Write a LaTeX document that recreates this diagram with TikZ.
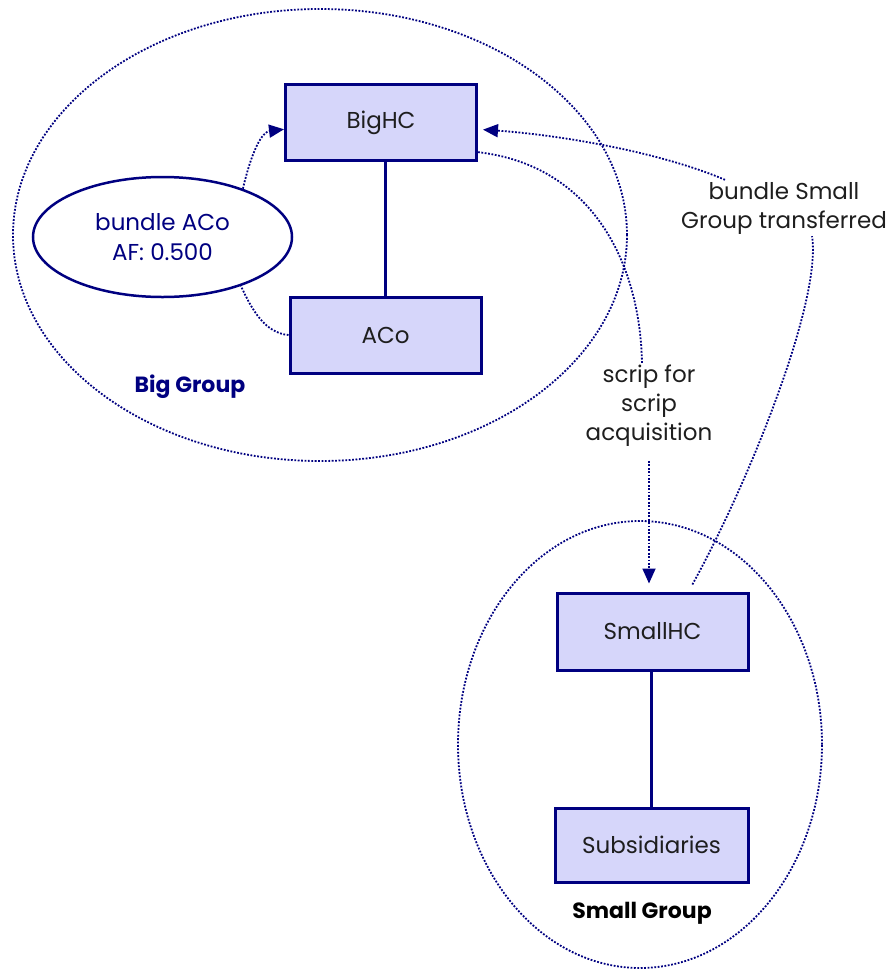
\documentclass[tikz,border=0pt]{standalone}
\usepackage{fontspec}
\setmainfont{Poppins}
\usetikzlibrary{shapes.geometric,arrows.meta}
\definecolor{navy}{RGB}{0,0,128}
\definecolor{boxfill}{RGB}{214,214,250}
\definecolor{ink}{RGB}{30,30,30}
\begin{document}
\begin{tikzpicture}[x=1pt,y=-1pt,
  box/.style={draw=navy, line width=3pt, fill=boxfill, minimum width=191pt, minimum height=76pt, text=ink, font=\fontsize{23}{28}\selectfont, inner sep=0pt},
  cluster/.style={ellipse, draw=navy, line width=1.8pt, dash pattern=on 1.8pt off 1.6pt, inner sep=0pt},
  dotline/.style={draw=navy, line width=1.8pt, dash pattern=on 1.8pt off 1.6pt},
  headed/.style={-{Triangle[length=15pt,width=13pt]}},
  lbl/.style={text=ink, font=\fontsize{23}{29}\selectfont, align=center, inner sep=2pt},
  grouplbl/.style={font=\fontsize{22}{26}\selectfont\bfseries, inner sep=0pt},
  link/.style={draw=navy, line width=2.5pt}]
\useasboundingbox (0,0) rectangle (891,970);
% clusters
\node[cluster, minimum width=614pt, minimum height=452pt] (biggroup) at (320,235) {};
\node[cluster, minimum width=364pt, minimum height=447pt] (smallgroup) at (640,744.5) {};
% boxes
\node[box] (bighc) at (381,122.5) {BigHC};
\node[box] (aco) at (385.5,335) {ACo};
\node[box, minimum height=77pt] (smallhc) at (652.5,631.5) {SmallHC};
\node[box, minimum width=193pt, minimum height=74pt] (subs) at (651.5,845) {Subsidiaries};
\node[ellipse, draw=navy, line width=2.5pt, minimum width=259pt, minimum height=120pt, text=navy, align=center, font=\fontsize{23}{30}\selectfont, inner sep=0pt] (baco) at (162.5,237) {bundle ACo\\AF: 0.500};
% group labels
\node[grouplbl, text=navy] (bglabel) at (190,387) {Big Group};
\node[grouplbl, text=black] (sglabel) at (642,913) {Small Group};
% edge labels
\node[lbl] (scrip) at (649,406) {scrip for\\scrip\\acquisition};
\node[lbl] (bsmall) at (784,208) {bundle Small\\Group transferred};
% solid links
\draw[link] (aco.north) -- (aco.north |- bighc.south);
\draw[link] (subs.north) -- (subs.north |- smallhc.south);
% dotted edges
\draw[dotline, headed] (baco.31) .. controls (252,150) and (262,132) .. (bighc.184);
\draw[dotline] (aco.west) .. controls (265,333) and (252,310) .. (baco.-32);
\draw[dotline] (bighc.-17) .. controls (590,165) and (640,260) .. ([xshift=-7pt]scrip.north);
\draw[dotline, headed, shorten <=12pt, shorten >=8pt] (scrip.south) -- (scrip.south |- smallhc.north);
\draw[dotline, shorten <=8pt] (smallhc.48) .. controls (750,480) and (822,300) .. ([xshift=28pt]bsmall.south);
\draw[dotline, headed, shorten >=5pt] ([xshift=-59pt]bsmall.north) .. controls (660,152) and (560,135) .. (bighc.-4);
\end{tikzpicture}
\end{document}
